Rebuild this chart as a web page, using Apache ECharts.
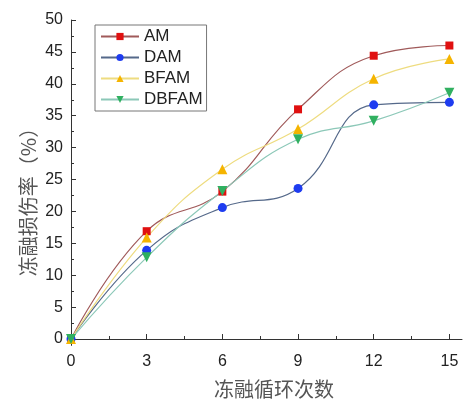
<!DOCTYPE html>
<html><head><meta charset="utf-8">
<script src="https://cdn.jsdelivr.net/npm/echarts@6/dist/echarts.min.js"></script>
<style>html,body{margin:0;padding:0;background:#fff}#c{width:473px;height:401px}</style>
</head><body><div id="c"></div>
<script>
const cycles = [0, 3, 6, 9, 12, 15];
const AM    = [0, 16.9, 23.1, 36.0, 44.4, 46.0];
const DAM   = [0, 13.9, 20.6, 23.6, 36.7, 37.1];
const BFAM  = [0, 15.9, 26.6, 32.9, 40.8, 43.9];
const DBFAM = [0, 12.8, 23.2, 31.3, 34.2, 38.6];
const xTicks = [0, 3, 6, 9, 12, 15];
const xMinor = [1.5, 4.5, 7.5, 10.5, 13.5];
const yTicks = [0, 5, 10, 15, 20, 25, 30, 35, 40, 45, 50];
const yMinor = [2.5, 7.5, 12.5, 17.5, 22.5, 27.5, 32.5, 37.5, 42.5, 47.5];
const xTitle = '冻融循环次数';
const yTitle = '冻融损伤率（%）';

const pairs = a => cycles.map((x, i) => [x, a[i]]);
const axisColor = '#333';
const labelFont = {color: '#222', fontSize: 16, fontFamily: 'Liberation Sans, Arial, sans-serif'};

function ser(name, data, line, mark, symbol, size, rot) {
  return {
    name, type: 'line', data: pairs(data), smooth: 0.45,
    symbol, symbolSize: size, symbolRotate: rot || 0,
    lineStyle: {color: line, width: 1.2},
    itemStyle: {color: mark},
    xAxisIndex: 0, yAxisIndex: 0
  };
}

const chart = echarts.init(document.getElementById('c'));
chart.setOption({
  animation: false,
  grid: {left: 71, right: 11, top: 20, bottom: 55.6, containLabel: false},
  legend: {
    orient: 'vertical', left: 95, top: 25,
    itemWidth: 38, itemHeight: 9, itemGap: 4,
    padding: [3, 4, 3, 5],
    borderColor: '#777', borderWidth: 1,
    textStyle: {color: '#222', fontSize: 17, fontFamily: 'Liberation Sans, Arial, sans-serif'},
    data: ['AM', 'DAM', 'BFAM', 'DBFAM']
  },
  graphic: [{
    type: 'text', x: 274, y: 389,
    style: {text: xTitle, fill: '#555', fontSize: 20, fontFamily: 'Noto Sans CJK SC', align: 'center', verticalAlign: 'middle'}
  }, {
    type: 'text', x: 28, y: 197, rotation: Math.PI / 2,
    style: {text: yTitle, fill: '#555', fontSize: 20, fontFamily: 'Noto Sans CJK SC', align: 'center', verticalAlign: 'middle'}
  }],
  xAxis: [{
    type: 'value', min: 0, max: 15.5,
    axisLine: {show: true, lineStyle: {color: axisColor}},
    axisTick: {show: true, inside: true, length: 5, customValues: xTicks, lineStyle: {color: axisColor}},
    axisLabel: {customValues: xTicks, margin: 8, ...labelFont},
    splitLine: {show: false}
  }, {
    type: 'value', min: 0, max: 15.5, position: 'bottom',
    axisLine: {show: false},
    axisTick: {show: true, inside: true, length: 3, customValues: xMinor, lineStyle: {color: axisColor}},
    axisLabel: {show: false}, splitLine: {show: false}
  }],
  yAxis: [{
    type: 'value', min: -1, max: 50,
    axisLine: {show: true, lineStyle: {color: axisColor}},
    axisTick: {show: true, inside: true, length: 5, customValues: yTicks, lineStyle: {color: axisColor}},
    axisLabel: {customValues: yTicks, margin: 8, ...labelFont},
    splitLine: {show: false}
  }, {
    type: 'value', min: -1, max: 50, position: 'left',
    axisLine: {show: false},
    axisTick: {show: true, inside: true, length: 3, customValues: yMinor, lineStyle: {color: axisColor}},
    axisLabel: {show: false}, splitLine: {show: false}
  }],
  series: [
    ser('AM', AM, '#a05a5a', '#e01010', 'rect', 8),
    ser('DAM', DAM, '#55698a', '#1e3cf0', 'circle', 9),
    ser('BFAM', BFAM, '#eedc80', '#f5b400', 'triangle', 10),
    ser('DBFAM', DBFAM, '#8cc8b8', '#30b060', 'triangle', 10, 180)
  ]
});
</script></body></html>
